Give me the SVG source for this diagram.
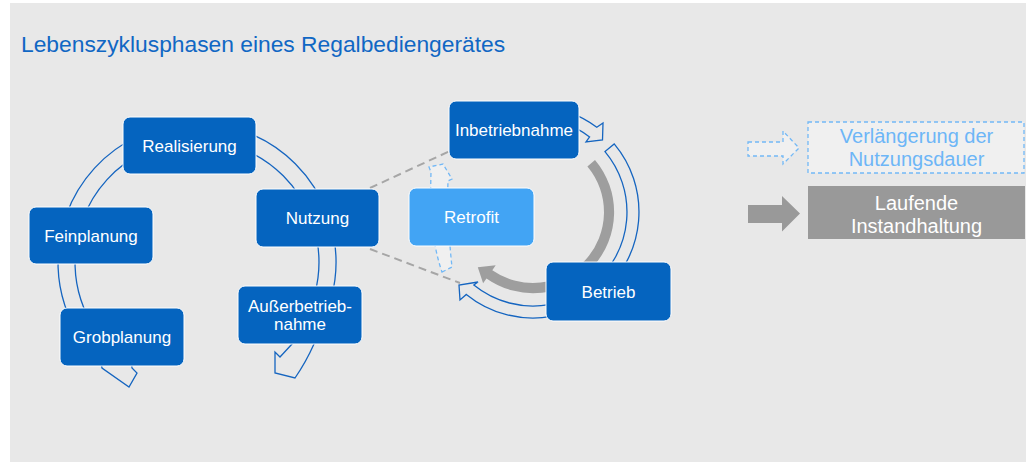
<svg xmlns="http://www.w3.org/2000/svg" width="1026" height="463" viewBox="0 0 1026 463">
  <style>
    .node { fill: #0564bf; stroke: #ffffff; stroke-width: 1; }
    .node-light { fill: #42a4f4; stroke: #ffffff; stroke-width: 1; }
    .label { font-family: "Liberation Sans", Arial, sans-serif; font-size: 17px; fill: #ffffff; text-anchor: middle; }
    .arc { fill: none; stroke: #1565c0; stroke-width: 1.3; stroke-linejoin: miter; }
    .ring { fill: #9e9e9e; stroke: none; }
    .link { fill: none; stroke: #a6a6a6; stroke-width: 2; stroke-dasharray: 8 5; }
    .ext { fill: #f0f0f0; stroke: #72b8f6; stroke-width: 1.3; stroke-dasharray: 4 3; }
    .legend-text { font-family: "Liberation Sans", Arial, sans-serif; font-size: 20px; text-anchor: middle; }
  </style>

  <!-- background panel -->
  <rect x="0" y="0" width="1026" height="463" fill="#ffffff"/>
  <rect x="10" y="3" width="1016" height="459" fill="#e8e8e8"/>

  <text x="21" y="52" font-family="'Liberation Sans', Arial, sans-serif" font-size="22.8" fill="#1067c4">Lebenszyklusphasen eines Regalbediengerätes</text>

  <g id="connectors">
    <!-- main life cycle, block arcs around (197,262) -->
    <path class="arc" d="M 66.4,214.5 A 139 139 0 0 1 138.3,136.0 L 145.4,151.4 A 122 122 0 0 0 82.4,220.3 Z"/>
    <path class="arc" d="M 244.5,131.4 A 139 139 0 0 1 327.6,214.5 L 311.6,220.3 A 122 122 0 0 0 238.7,147.4 Z"/>
    <path class="arc" d="M 333.9,237.9 A 139 139 0 0 1 331.3,298.0 L 314.8,293.6 A 122 122 0 0 0 317.1,240.8 Z"/>
    <path class="arc" d="M 300,332 L 292,344 L 280,357 L 275,352 L 275,373 L 295,378 Q 306,362 314,344 L 318,332 Z"/>
    <path class="arc" d="M 58.1,257.1 A 139 139 0 0 0 76.6,331.5 L 91.3,323.0 A 122 122 0 0 1 75.1,257.7 Z"/>
    <path class="arc" d="M 100,358 L 102,368 L 129,387 L 137,373 L 132,368 L 131,358 Z"/>

    <!-- operating cycle, block arcs around (533,212) -->
    <path class="ring" d="M 595.0,159.9 A 81 81 0 0 1 486.5,278.4 L 483.1,283.3 L 477.8,267.2 L 495.7,265.2 L 492.3,270.2 A 71 71 0 0 0 587.4,166.4 Z"/>
    <path class="arc" d="M 569.3,112.4 A 106 106 0 0 1 596.8,127.3 L 603,123 L 602.5,140 L 586,142 L 589.6,136.9 A 94 94 0 0 0 565.1,123.7 Z"/>
    <path class="arc" d="M 614.2,143.9 A 106 106 0 0 1 601.1,293.2 L 593.4,284.0 A 94 94 0 0 0 605.0,151.6 Z"/>
    <path class="arc" d="M 551.4,316.4 A 106 106 0 0 1 466.3,294.4 L 460,300 L 459,285 L 478,282 L 473.8,285.0 A 94 94 0 0 0 549.3,304.6 Z"/>

    <!-- zoom lines from Nutzung to the operating cycle -->
    <line class="link" x1="370" y1="188" x2="450" y2="151"/>
    <line class="link" x1="370" y1="249" x2="460" y2="283"/>

    <!-- life extension arrow through Retrofit -->
    <path class="ext" d="M 442,272 L 452,267 C 449,240 447,205 448,181 L 452,179 L 443,164 L 429,167 L 431,172 C 430,205 431,240 442,272 Z"/>
  </g>

  <g id="node-realisierung">
    <rect class="node" x="123" y="117" width="133" height="57" rx="7"/>
    <text class="label" x="189.5" y="151.5">Realisierung</text>
  </g>
  <g id="node-feinplanung">
    <rect class="node" x="29" y="207" width="124" height="57" rx="7"/>
    <text class="label" x="91" y="241.5">Feinplanung</text>
  </g>
  <g id="node-grobplanung">
    <rect class="node" x="60" y="308" width="124" height="58" rx="7"/>
    <text class="label" x="122" y="343">Grobplanung</text>
  </g>
  <g id="node-nutzung">
    <rect class="node" x="256" y="189" width="123" height="58" rx="7"/>
    <text class="label" x="317.5" y="224">Nutzung</text>
  </g>
  <g id="node-ausserbetriebnahme">
    <rect class="node" x="238" y="286" width="124" height="58" rx="7"/>
    <text class="label" x="300" y="312">Außerbetrieb-</text>
    <text class="label" x="300" y="330">nahme</text>
  </g>
  <g id="node-inbetriebnahme">
    <rect class="node" x="449" y="101" width="130" height="58" rx="7"/>
    <text class="label" x="514" y="136">Inbetriebnahme</text>
  </g>
  <g id="node-betrieb">
    <rect class="node" x="546" y="262" width="125" height="59" rx="7"/>
    <text class="label" x="608.5" y="297.5">Betrieb</text>
  </g>
  <g id="node-retrofit">
    <rect class="node-light" x="409" y="188" width="125" height="58" rx="7"/>
    <text class="label" x="471.5" y="223">Retrofit</text>
  </g>

  <g id="legend-extension">
    <path class="ext" d="M 748,142 L 783,142 L 783,131 L 799,148 L 783,164 L 783,156 L 748,156 Z"/>
    <rect class="ext" x="808" y="122" width="216" height="51"/>
    <text class="legend-text" x="916.5" y="143" fill="#6db6f7">Verlängerung der</text>
    <text class="legend-text" x="916.5" y="165.5" fill="#6db6f7">Nutzungsdauer</text>
  </g>
  <g id="legend-maintenance">
    <path d="M 748,205 L 782,205 L 782,196 L 800,213.5 L 782,231.5 L 782,223 L 748,223 Z" fill="#999999"/>
    <rect x="808" y="186" width="217" height="53" fill="#999999"/>
    <text class="legend-text" x="916.5" y="210" fill="#ffffff">Laufende</text>
    <text class="legend-text" x="916.5" y="232.5" fill="#ffffff">Instandhaltung</text>
  </g>
</svg>
